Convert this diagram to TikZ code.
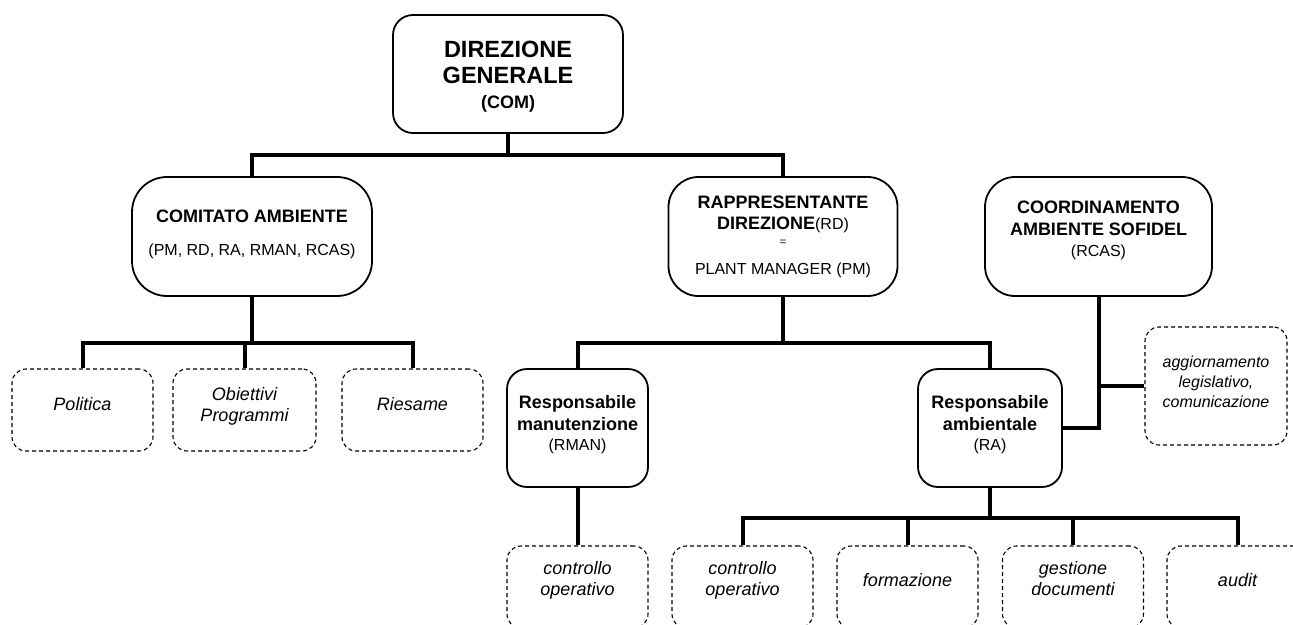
\documentclass[tikz,border=0pt]{standalone}
\usepackage{fontspec}
\setmainfont{Liberation Sans}
\begin{document}
\begin{tikzpicture}[x=1pt,y=-1pt,
  box/.style={draw, line width=1.8pt, rounded corners=#1, fill=white, inner sep=0pt},
  box/.default=20pt,
  dbox/.style={draw, line width=1.1pt, dash pattern=on 4pt off 3pt, rounded corners=14pt, fill=white, inner sep=0pt, minimum width=141pt, minimum height=82pt},
  conn/.style={line width=4pt},
  txt/.style={inner sep=0pt, anchor=base},
  tb/.style={txt, font=\fontsize{18}{20}\selectfont\bfseries},
  tr/.style={txt, font=\fontsize{16}{18}\selectfont},
  ti/.style={txt, font=\fontsize{18}{20}\selectfont\itshape},
  tis/.style={txt, font=\fontsize{16}{18}\selectfont\itshape}]
\useasboundingbox (0,0) rectangle (1293,624);
\clip (0,0) rectangle (1293,624);

% main boxes
\node[box=20pt, minimum width=230pt, minimum height=118pt] (dg) at (508,74) {};
\node[box=35pt, minimum width=240pt, minimum height=119pt] (com) at (252,236.5) {};
\node[box=30pt, minimum width=229pt, minimum height=119pt] (rd) at (783,236.5) {};
\node[box=30pt, minimum width=227pt, minimum height=119pt] (coord) at (1098.5,236.5) {};
\node[box=20pt, minimum width=141pt, minimum height=118pt] (rman) at (577.5,428) {};
\node[box=20pt, minimum width=144pt, minimum height=118pt] (ra) at (990,428) {};

% dashed boxes
\node[dbox] (pol) at (82.5,410) {};
\node[dbox, minimum width=143pt] (obi) at (244.5,410) {};
\node[dbox] (ries) at (412.5,410) {};
\node[dbox, minimum width=142pt, minimum height=118pt] (agg) at (1216,386) {};
\node[dbox] (c1) at (577.5,587) {};
\node[dbox] (c2) at (742.5,587) {};
\node[dbox] (form) at (907.5,587) {};
\node[dbox] (gest) at (1073,587) {};
\node[dbox] (aud) at (1237.5,587) {};

% texts
\node[txt, font=\fontsize{23.5}{26}\selectfont\bfseries] (dg1) at (508,57) {DIREZIONE};
\node[txt, font=\fontsize{23.5}{26}\selectfont\bfseries] (dg2) at (508,83) {GENERALE};
\node[tb] (dg3) at (508,108) {(COM)};

\node[tb] (com1) at (252,222) {COMITATO AMBIENTE};
\node[tr] (com2) at (252,255) {(PM, RD, RA, RMAN, RCAS)};

\node[tb] (rd1) at (783,208) {RAPPRESENTANTE};
\node[txt] (rd2) at (783,229) {\fontsize{18}{20}\selectfont\bfseries DIREZIONE\fontsize{16}{18}\selectfont\mdseries(RD)};
\node[txt, font=\fontsize{11}{12}\selectfont] (rd3) at (783,245) {=};
\node[tr] (rd4) at (783,274) {PLANT MANAGER (PM)};

\node[tb] (co1) at (1098.5,213) {COORDINAMENTO};
\node[tb] (co2) at (1098.5,235) {AMBIENTE SOFIDEL};
\node[tr] (co3) at (1098.5,256) {(RCAS)};

\node[tb] (rm1) at (577.5,408) {Responsabile};
\node[tb] (rm2) at (577.5,430) {manutenzione};
\node[tr] (rm3) at (577.5,450) {(RMAN)};

\node[tb] (ra1) at (990,408) {Responsabile};
\node[tb] (ra2) at (990,430) {ambientale};
\node[tr] (ra3) at (990,450) {(RA)};

\node[ti] (polt) at (82.5,410) {Politica};
\node[ti] (obi1) at (244.5,400) {Obiettivi};
\node[ti] (obi2) at (244.5,421) {Programmi};
\node[ti] (riest) at (412.5,410) {Riesame};

\node[tis] (ag1) at (1216,367) {aggiornamento};
\node[tis] (ag2) at (1216,387) {legislativo,};
\node[tis] (ag3) at (1216,407) {comunicazione};

\node[ti] (c1a) at (577.5,574) {controllo};
\node[ti] (c1b) at (577.5,595) {operativo};
\node[ti] (c2a) at (742.5,574) {controllo};
\node[ti] (c2b) at (742.5,595) {operativo};
\node[ti] (fort) at (907.5,586) {formazione};
\node[ti] (ge1) at (1073,574) {gestione};
\node[ti] (ge2) at (1073,595) {documenti};
\node[ti] (audt) at (1237.5,586) {audit};

% connectors
\coordinate (b1) at (508,155);
\coordinate (b2) at (252,343);
\coordinate (b3) at (783,343);
\coordinate (b4) at (990,518);

\draw[conn] (dg.south) -- (b1);
\draw[conn] (com.north) |- (b1) -| (rd.north);

\draw[conn] (com.south) -- (b2);
\draw[conn] (pol.north) |- (b2) -| (ries.north);
\draw[conn] (obi.north) -- (obi.north |- b2);

\draw[conn] (rd.south) -- (b3);
\draw[conn] (rman.north) |- (b3) -| (ra.north);

\draw[conn] (ra.east) -| (coord.south);
\draw[conn] (agg.west) -- (agg.west -| coord.south);

\draw[conn] (rman.south) -- (c1.north);
\draw[conn] (ra.south) -- (b4);
\draw[conn] (c2.north) |- (b4) -| (aud.north);
\draw[conn] (form.north) -- (form.north |- b4);
\draw[conn] (gest.north) -- (gest.north |- b4);
\end{tikzpicture}
\end{document}
